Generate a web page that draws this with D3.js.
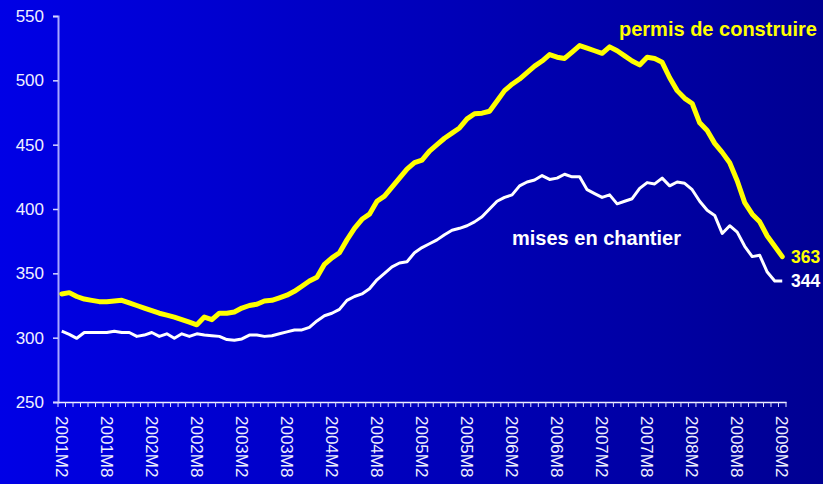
<!DOCTYPE html>
<html>
<head>
<meta charset="utf-8">
<script src="https://cdn.jsdelivr.net/npm/d3@7"></script>
<style>
html, body {margin: 0; padding: 0; background: #0000c0;}
svg {display: block;}
</style>
</head>
<body>
<svg id="chart" width="823" height="484"></svg>
<script>
var years = [2001, 2002, 2003, 2004, 2005, 2006, 2007, 2008, 2009];

// Monthly categories, 2001M2 .. 2009M2.
var months = [];
years.forEach(function(y) {
	for (var m = 1; m <= 12; m++) {
		if ((y === 2001 && m < 2) || (y === 2009 && m > 2)) {continue;}
		months.push(y + 'M' + m);}});

var tickLabels = ['2001M2', '2001M8', '2002M2', '2002M8', '2003M2', '2003M8', '2004M2', '2004M8',
	'2005M2', '2005M8', '2006M2', '2006M8', '2007M2', '2007M8', '2008M2', '2008M8', '2009M2'];

var yTicks = [250, 300, 350, 400, 450, 500, 550];

var permis = [
	334, 335, 332, 330, 329, 328, 328, 328.5, 329, 327,
	325, 323, 321, 319, 317.5, 316, 314, 312, 310, 316,
	314, 319, 319, 320, 323, 325, 326, 328.5, 329, 331,
	333, 336, 340, 344, 347, 357, 362, 366, 376, 385,
	392, 396, 406, 410, 417, 424, 431, 436, 438, 445,
	450, 455, 459, 463, 470, 474, 474.5, 476, 484, 492,
	497, 501, 506, 511, 515, 520, 518, 517, 522, 527,
	525, 523, 521, 526, 523, 519, 515, 512, 518, 517,
	514, 502, 492, 486, 482, 467, 461, 451, 444, 436,
	422, 405, 396, 390, 379, 371, 363];

var chantier = [
	305, 302.5, 299.5, 304, 304, 304, 304, 305, 304, 304,
	301, 302, 304, 301, 303, 299.5, 303, 301, 303, 302,
	301.5, 301, 298.5, 298, 299, 302, 302, 301, 301.5, 303,
	304.5, 306, 306, 308, 313, 317, 319, 322, 329, 332,
	334, 338, 345, 350, 355, 358, 359, 366, 370, 373,
	376, 380, 383.5, 385, 387, 390, 394, 400, 406, 409,
	411, 418, 421, 422.5, 426, 423, 424, 427, 425, 425,
	415, 412, 409, 411, 404, 406, 408, 416, 420.5, 419.5,
	424, 418, 421, 420, 415, 406, 399, 395, 381, 387,
	382, 371, 363, 364, 351, 344, 344];

var svg = d3.select('#chart'),
		W = 823, H = 484,
		padL = 58, padR = 786, padT = 16, padB = 402;

// Background gradient, bright blue to navy.
var grad = svg.append('defs').append('linearGradient')
	.attr('id', 'bg').attr('x1', 0).attr('x2', 1).attr('y1', 0).attr('y2', 0);
grad.append('stop').attr('offset', 0).attr('stop-color', '#0000e6');
grad.append('stop').attr('offset', 1).attr('stop-color', '#000092');
svg.append('rect')
	.attr('width', W).attr('height', H)
	.attr('fill', 'url(#bg)');

var x = d3.scaleBand().domain(months).range([padL, padR]).paddingInner(0).paddingOuter(0);
var y = d3.scaleLinear().domain([250, 550]).range([padB, padT]);
var bw = x.bandwidth();

function cx(d, i) {return x(months[i]) + bw / 2;}

// Y axis.
var yAxis = svg.append('g')
	.attr('transform', 'translate(' + padL + ',0)')
	.call(d3.axisLeft(y).tickValues(yTicks).tickSize(5).tickPadding(9));
yAxis.select('.domain').attr('stroke', '#a8a8ff').attr('stroke-width', 2);
yAxis.selectAll('.tick line').attr('stroke', '#d8d8ff').attr('stroke-width', 1.5);
yAxis.selectAll('.tick text')
	.attr('fill', '#f0f0ff')
	.style('font-family', 'Liberation Sans, Arial, sans-serif')
	.style('font-size', '17px');

// X axis: small ticks on every month boundary, labels every six months.
var xAxis = svg.append('g')
	.attr('transform', 'translate(0,' + padB + ')')
	.call(d3.axisBottom(x).tickValues([]).tickSizeOuter(0));
xAxis.select('.domain').attr('stroke', '#f0f0ff').attr('stroke-width', 1.5);
var edges = months.map(function(m) {return x(m);}).concat([padR]);
xAxis.selectAll('.edge').data(edges).enter()
	.append('line')
	.attr('class', 'edge')
	.attr('x1', function(d) {return d;}).attr('x2', function(d) {return d;})
	.attr('y1', 0).attr('y2', 5)
	.attr('stroke', '#e0e0ff').attr('stroke-width', 1);
xAxis.selectAll('.lbl').data(tickLabels).enter()
	.append('text')
	.attr('class', 'lbl')
	.attr('transform', function(d) {return 'translate(' + (x(d) + bw / 2) + ',14)rotate(90)';})
	.attr('dy', '0.35em')
	.attr('text-anchor', 'start')
	.attr('fill', '#f0f0ff')
	.style('font-family', 'Liberation Sans, Arial, sans-serif')
	.style('font-size', '17px')
	.text(function(d) {return d;});

// Series.
var line = d3.line().x(cx).y(function(d) {return y(d);});
svg.append('path').datum(chantier)
	.attr('fill', 'none')
	.attr('stroke', '#ffffff')
	.attr('stroke-width', 3)
	.attr('stroke-linejoin', 'round')
	.attr('d', line);
svg.append('path').datum(permis)
	.attr('fill', 'none')
	.attr('stroke', '#ffff00')
	.attr('stroke-width', 5)
	.attr('stroke-linejoin', 'round')
	.attr('stroke-linecap', 'round')
	.attr('d', line);

// Labels.
function label(txt, px, py, color, size) {
	svg.append('text')
		.attr('x', px).attr('y', py)
		.attr('fill', color)
		.style('font-family', 'Liberation Sans, Arial, sans-serif')
		.style('font-weight', 'bold')
		.style('font-size', size + 'px')
		.text(txt);}
label('permis de construire', 619, 36, '#ffff00', 20);
label('mises en chantier', 512, 245, '#ffffff', 20);
var last = months.length - 1;
label(permis[last], 791, 263, '#ffff00', 17.5);
label(chantier[last], 791, 287, '#ffffff', 17.5);
</script>
</body>
</html>
